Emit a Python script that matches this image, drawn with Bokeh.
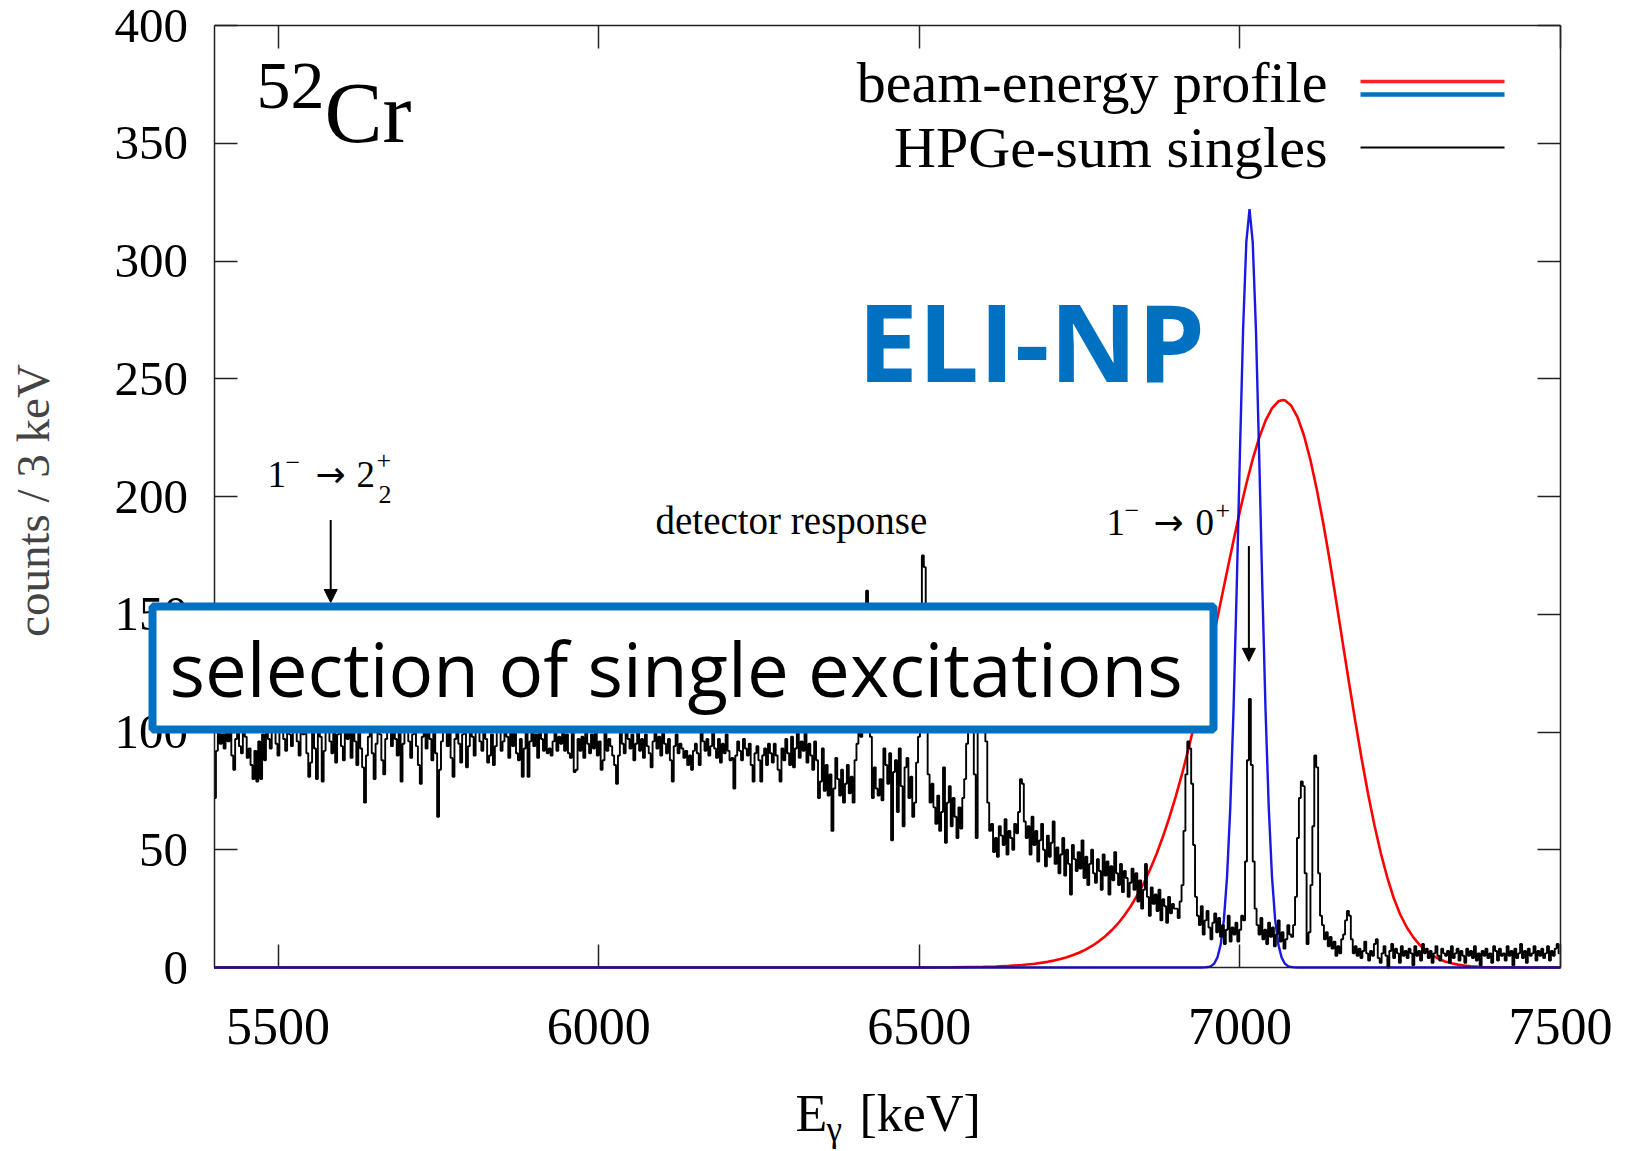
import math
from bokeh.plotting import figure
from bokeh.models import Range1d, LinearAxis, Label, BoxAnnotation, Arrow, NormalHead
from bokeh.embed import file_html
from bokeh.resources import INLINE

# ---------------- data ----------------
energy_start = 5400   # keV, lower edge of first bin
bin_width = 3         # keV per bin

# HPGe-sum singles, counts per 3 keV bin (5400 ... 7500 keV)
counts = [
    72, 92, 104, 95, 99, 93, 108, 96, 100, 90,
    84, 97, 106, 94, 91, 102, 98, 89, 93, 86,
    80, 92, 79, 96, 80, 99, 88, 105, 97, 93,
    101, 110, 95, 90, 104, 112, 97, 92, 106, 99,
    94, 113, 101, 96, 90, 108, 99, 103, 91, 81,
    87, 101, 93, 80, 106, 98, 79, 92, 109, 100,
    96, 91, 104, 87, 99, 111, 94, 88, 106, 97,
    101, 89, 108, 96, 86, 103, 93, 85, 70, 90,
    98, 104, 91, 80, 95, 106, 99, 88, 82, 97,
    108, 100, 94, 104, 97, 90, 111, 79, 95, 101,
    106, 96, 89, 99, 109, 94, 86, 78, 98, 103,
    93, 105, 97, 88, 101, 91, 64, 84, 96, 107,
    100, 94, 103, 89, 81, 97, 108, 95, 87, 99,
    104, 85, 94, 106, 98, 90, 101, 110, 96, 92,
    102, 97, 87, 90, 99, 86, 94, 107, 100, 92,
    96, 106, 98, 89, 102, 94, 109, 91, 88, 97,
    81, 93, 101, 81, 96, 105, 94, 99, 89, 103,
    97, 92, 102, 91, 93, 90, 96, 101, 92, 98,
    95, 105, 92, 99, 91, 89, 101, 83, 84, 97,
    92, 98, 89, 102, 95, 91, 99, 93, 104, 90,
    96, 84, 88, 100, 92, 97, 94, 90, 86, 78,
    90, 101, 95, 91, 104, 97, 93, 99, 88, 95,
    102, 92, 97, 89, 99, 94, 91, 85, 96, 103,
    93, 98, 90, 101, 95, 91, 97, 88, 79, 94,
    99, 91, 95, 93, 89, 92, 86, 90, 84, 92,
    95, 91, 86, 100, 96, 92, 97, 90, 94, 101,
    93, 89, 97, 87, 95, 91, 99, 92, 88, 89,
    76, 90, 96, 92, 88, 97, 93, 90, 95, 86,
    79, 91, 94, 88, 79, 90, 93, 86, 95, 91,
    87, 95, 90, 84, 79, 93, 88, 97, 91, 86,
    98, 85, 93, 101, 89, 96, 92, 100, 87, 95,
    90, 84, 96, 88, 72, 79, 93, 75, 86, 73,
    82, 58, 76, 89, 80, 73, 84, 70, 78, 86,
    74, 81, 70, 88, 95, 102, 98, 108, 104, 160,
    112, 98, 72, 85, 76, 73, 80, 71, 93, 86,
    78, 91, 54, 83, 88, 66, 93, 77, 60, 85,
    89, 72, 81, 64, 70, 87, 98, 135, 175, 170,
    105, 82, 70, 78, 68, 61, 73, 58, 66, 85,
    53, 70, 77, 60, 72, 64, 55, 68, 59, 72,
    80, 95, 118, 132, 110, 82, 55, 100, 128, 140,
    122, 96, 70, 58, 61, 49, 55, 47, 60, 56,
    52, 63, 48, 58, 55, 50, 61, 57, 66, 80,
    78, 62, 55, 60, 48, 64, 52, 58, 45, 54,
    61, 50, 43, 56, 47, 53, 62, 44, 51, 40,
    48, 55, 39, 50, 44, 31, 52, 46, 41, 49,
    42, 54, 38, 47, 35, 44, 50, 40, 36, 46,
    41, 33, 48, 39, 45, 31, 43, 37, 49, 40,
    35, 44, 32, 41, 38, 30, 36, 42, 33, 40,
    28, 37, 25, 33, 44, 30, 22, 34, 27, 31,
    24, 33, 20, 29, 26, 19, 30, 23, 27, 25,
    25, 21, 28, 35, 58, 82, 96, 93, 78, 52,
    30, 22, 18, 26, 14, 20, 24, 17, 12, 19,
    23, 15, 21, 13, 18, 10, 16, 22, 11, 17,
    14, 19, 11, 16, 22, 20, 45, 88, 114, 86,
    45, 25, 18, 14, 21, 12, 16, 10, 19, 13,
    17, 9, 14, 20, 11, 15, 8, 12, 18, 14,
    13, 18, 30, 55, 72, 79, 77, 40, 10, 15,
    35, 60, 90, 85, 40, 22, 18, 12, 15, 9,
    13, 8, 11, 5, 9, 6, 12, 14, 20, 24,
    22, 12, 6, 9, 5, 8, 4, 7, 11, 6,
    3, 7, 5, 10, 12, 4, 2, 6, 9, 5,
    0, 7, 10, 4, 8, 6, 2, 9, 5, 7,
    4, 8, 6, 1, 9, 5, 7, 3, 10, 6,
    8, 4, 7, 2, 6, 9, 5, 3, 8, 6,
    5, 7, 2, 9, 4, 6, 8, 3, 7, 5,
    2, 8, 5, 7, 4, 9, 3, 6, 1, 7,
    5, 8, 4, 6, 2, 9, 7, 3, 8, 5,
    6, 3, 9, 5, 7, 1, 8, 4, 6, 10,
    4, 7, 2, 8, 5, 6, 9, 3, 7, 5,
    8, 4, 6, 9, 3, 7, 5, 8, 10, 6,
]
bin_centers = [energy_start + bin_width * (i + 0.5) for i in range(len(counts))]

# beam-energy profile (red)
red_energy = [5400, 6500, 6550, 6600, 6620, 6640, 6660, 6680, 6700, 6710, 6720, 6730,
              6740, 6750, 6760, 6770, 6780, 6790, 6800, 6810, 6820, 6830, 6840, 6850,
              6860, 6870, 6880, 6890, 6900, 6910, 6920, 6930, 6940, 6950, 6960, 6970,
              6980, 6990, 7000, 7010, 7020, 7030, 7040, 7050, 7060, 7067, 7070, 7080,
              7090, 7100, 7110, 7120, 7130, 7140, 7150, 7160, 7170, 7180, 7190, 7200,
              7210, 7220, 7230, 7240, 7250, 7260, 7270, 7280, 7290, 7300, 7310, 7320,
              7330, 7340, 7350, 7360, 7380, 7400, 7450, 7500]
red_counts = [0, 0.02, 0.1, 0.29, 0.45, 0.69, 1.06, 1.6, 2.4, 2.93, 3.58, 4.34,
              5.28, 6.36, 7.71, 9.25, 11.1, 13.3, 15.8, 18.7, 22.2, 26.1, 30.7, 35.8,
              41.7, 48.2, 55.6, 63.7, 72.7, 82.4, 93.1, 104.4, 116.5, 128.9, 142.0, 155.1,
              168.3, 181.2, 193.8, 205.3, 215.9, 224.9, 232.2, 237.4, 240.4, 241.0, 240.9, 238.6,
              233.6, 225.8, 215.5, 202.9, 188.6, 172.9, 155.9, 138.5, 121.2, 104.5, 88.4, 73.6,
              60.2, 48.3, 38.1, 29.4, 22.5, 17.2, 13.0, 9.7, 7.1, 5.16, 3.67, 2.58,
              1.79, 1.22, 0.83, 0.55, 0.23, 0.09, 0.01, 0]

# beam-energy profile (blue, narrow)
blue_energy = [5400, 6940, 6945, 6950, 6955, 6960, 6965, 6970, 6975, 6980, 6985, 6990,
               6995, 7000, 7005, 7010, 7015, 7020, 7025, 7030, 7035, 7040, 7045, 7050,
               7055, 7060, 7065, 7070, 7075, 7080, 7085, 7090, 7500]
blue_counts = [0, 0, 0.06, 0.2, 0.6, 1.7, 4.3, 9.7, 20.2, 38.7, 68, 109,
               161, 218, 271, 308, 322, 308, 271, 218, 161, 109, 68, 38.7,
               20.2, 9.7, 4.3, 1.7, 0.6, 0.2, 0.06, 0, 0]

x_ticks = [5500, 6000, 6500, 7000, 7500]
y_ticks = [0, 50, 100, 150, 200, 250, 300, 350, 400]

# transitions marked with arrows (energy keV, arrow start / end counts)
arrow_22 = (5582, 190, 155)
arrow_0 = (7014, 179, 130)

X_MIN, X_MAX, Y_MIN, Y_MAX = 5400, 7500, 0, 400

# ---------------- layout (reference pixel -> data) ----------------
W, H = 1616, 1151
FL, FR, FT, FB = 213.5, 1560.0, 25.0, 967.0


def dx(px):
    return X_MIN + (px - FL) * (X_MAX - X_MIN) / (FR - FL)


def dy(py):
    return Y_MIN + (FB - py) * (Y_MAX - Y_MIN) / (FB - FT)


SERIF = "Liberation Serif"
SANS = "Open Sans"
BASE_K = {SERIF: 0.36, SANS: 0.40, "DejaVu Sans": 0.37}

p = figure(width=W, height=H,
           x_range=Range1d(dx(0), dx(W)), y_range=Range1d(dy(H), dy(0)),
           x_axis_location=None, y_axis_location=None,
           output_backend="svg", toolbar_location=None, min_border=0)
p.grid.visible = False
p.outline_line_color = None
p.background_fill_color = "white"
p.border_fill_color = "white"


def make_axis(loc, bounds, ticks, labels, size=48, standoff=10):
    ax = LinearAxis(fixed_location=loc, bounds=bounds, ticker=ticks)
    ax.axis_line_color = "#222222"
    ax.axis_line_width = 1.5
    ax.major_tick_in = 23
    ax.major_tick_out = 0
    ax.major_tick_line_color = "#222222"
    ax.major_tick_line_width = 1.5
    ax.minor_tick_line_color = None
    if labels:
        ax.major_label_text_font = SERIF
        ax.major_label_text_font_size = f"{size}px"
        ax.major_label_text_color = "black"
        ax.major_label_standoff = standoff
    else:
        ax.major_label_text_font_size = "0px"
        ax.major_label_text_color = None
        ax.major_label_standoff = 0
    return ax


p.add_layout(make_axis(Y_MIN, (X_MIN, X_MAX), x_ticks, True, 52, 41), "below")
p.add_layout(make_axis(X_MIN, (Y_MIN, Y_MAX), y_ticks, True, 49, 26), "left")
p.add_layout(make_axis(Y_MAX, (X_MIN, X_MAX), x_ticks, False), "above")
p.add_layout(make_axis(X_MAX, (Y_MIN, Y_MAX), y_ticks, False), "right")

# ---------------- curves ----------------
p.line(red_energy, red_counts, line_color="#ff0000", line_width=2.6)
p.line(blue_energy, blue_counts, line_color="#0000e0", line_width=2.4, line_alpha=0.9)
p.step(bin_centers, counts, mode="center", line_color="black", line_width=1.9)

# arrows
for (e, y0, y1) in (arrow_22, arrow_0):
    p.add_layout(Arrow(end=NormalHead(size=13, fill_color="black", line_color="black"),
                       x_start=e, y_start=y0, x_end=e, y_end=y1,
                       line_color="black", line_width=2))

# legend (text left of the line samples)
p.segment(x0=[dx(1360)], y0=[dy(81)], x1=[dx(1504)], y1=[dy(81)], line_color="#ff2020", line_width=3.5)
p.segment(x0=[dx(1360)], y0=[dy(94)], x1=[dx(1504)], y1=[dy(94)], line_color="#0070c0", line_width=4.5)
p.segment(x0=[dx(1360)], y0=[dy(147)], x1=[dx(1504)], y1=[dy(147)], line_color="black", line_width=2)


def lab(px, py, text, size, font=SERIF, align="left", color="black", style="normal"):
    k = BASE_K.get(font, 0.36)
    p.add_layout(Label(x=dx(px), y=dy(py - k * size), text=text, text_font=font,
                       text_font_size=f"{size}px", text_align=align, text_color=color,
                       text_font_style=style, text_baseline="alphabetic"))


lab(1327, 103, "beam-energy profile", 58, align="right")
lab(1327, 168, "HPGe-sum singles", 58, align="right")

# nucleus label
lab(256, 110, "52", 68)
lab(324, 143, "Cr", 87)

# ELI-NP
lab(857, 383, "ELI-NP", 108, font=SANS, color="#0070c0", style="bold")

# detector response
lab(655, 534, "detector response", 39)

# 1- -> 2+_2
lab(267, 487, "1", 37)
lab(285, 471, "\u2212", 26)
lab(315, 487, "\u2192", 36, font="DejaVu Sans")
lab(356, 487, "2", 37)
lab(376, 469, "+", 26)
lab(378, 503, "2", 26)

# 1- -> 0+
lab(1106, 535, "1", 37)
lab(1124, 519, "\u2212", 26)
lab(1153, 535, "\u2192", 36, font="DejaVu Sans")
lab(1195, 535, "0", 37)
lab(1215, 519, "+", 26)

# axis titles
p.add_layout(Label(x=dx(32), y=dy(500), text="counts / 3 keV", text_font=SERIF,
                   text_font_size="47px", text_align="center", text_baseline="middle",
                   angle=math.pi / 2))
lab(795, 1132, "E", 52)
lab(826, 1142, "\u03b3", 35)
lab(859, 1132, "[keV]", 52)

# overlay box
p.add_layout(BoxAnnotation(left=dx(152), right=dx(1213), top=dy(606), bottom=dy(729),
                           fill_color="white", fill_alpha=1.0,
                           line_color="#0070c0", line_width=8, line_alpha=1.0))
lab(169, 697, "selection of single excitations", 74.5, font=SANS)

open("out.html", "w").write(file_html(p, INLINE))
